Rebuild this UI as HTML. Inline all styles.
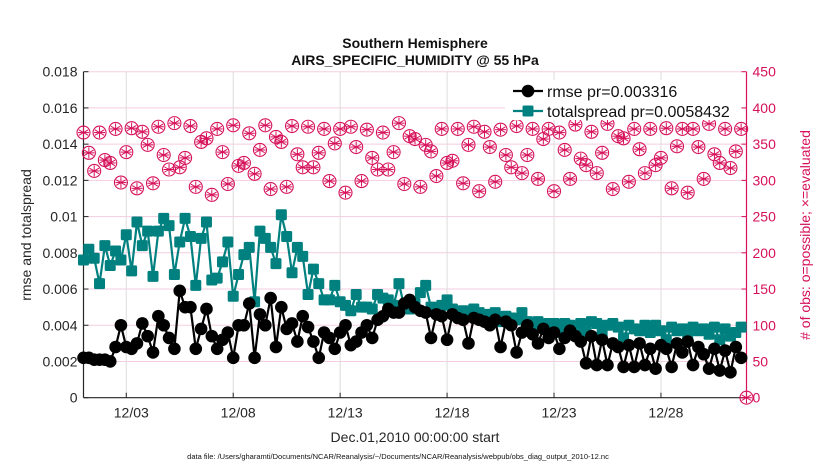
<!DOCTYPE html>
<html><head><meta charset="utf-8"><style>
html,body{margin:0;padding:0;background:#fff;}
svg{display:block;font-family:"Liberation Sans",Arial,sans-serif;}
</style></head><body>
<svg id="chart" width="830" height="470" viewBox="0 0 830 470">
</svg>
<script>
const rmse=[.0022,.0022,.0021,.0021,.0021,.0020,.0028,.0040,.0028,.0027,.0030,.0041,.0034,.0025,.0045,.0040,.0033,.0027,.0059,.0050,
.0050,.0027,.0038,.0049,.0034,.0027,.0032,.0036,.0022,.0040,.0040,.0052,.0022,.0046,.0040,.0055,.0028,.0050,.0038,.0041,
.0031,.0045,.0039,.0031,.0022,.0036,.0033,.0027,.0036,.0040,.0029,.0031,.0036,.0040,.0033,.0043,.0045,.0049,.0047,.0047,
.0052,.0054,.0050,.0048,.0047,.0033,.0046,.0045,.0032,.0046,.0044,.0043,.0030,.0044,.0043,.0042,.0040,.0043,.0028,.0042,
.0040,.0025,.0036,.0040,.0035,.0030,.0038,.0033,.0036,.0027,.0033,.0037,.0034,.0031,.0019,.0034,.0018,.0032,.0018,.0030,
.0028,.0017,.0029,.0017,.0030,.0018,.0027,.0016,.0029,.0027,.0017,.0030,.0025,.0031,.0018,.0028,.0024,.0016,.0027,.0015,
.0026,.0014,.0028,.0022];
const spread=[.0076,.0082,.0077,.0063,.0084,.0073,.0081,.0076,.0090,.0070,.0097,.0084,.0092,.0067,.0092,.0099,.0095,.0068,.0086,.0099,
.0089,.0062,.0088,.0097,.0065,.0066,.0075,.0086,.0056,.0068,.0079,.0083,.0053,.0092,.0088,.0083,.0074,.0101,.0089,.0069,
.0083,.0078,.0057,.0071,.0063,.0054,.0054,.0062,.0053,.0051,.0048,.0057,.0050,.0050,.0049,.0057,.0055,.0054,.0051,.0063,
.0050,.0049,.0052,.0058,.0062,.0050,.0047,.0051,.0054,.0049,.0047,.0048,.0046,.0049,.0047,.0045,.0046,.0047,.0042,.0045,
.0044,.0043,.0047,.0042,.0040,.0042,.0040,.0041,.0041,.0036,.0041,.0040,.0039,.0041,.0036,.0042,.0041,.0036,.0040,.0041,
.0039,.0033,.0040,.0038,.0037,.0040,.0036,.0040,.0037,.0032,.0039,.0037,.0038,.0033,.0039,.0037,.0038,.0035,.0039,.0032,
.0038,.0034,.0036,.0039];
const nobs=[366,338,313,366,328,324,371,297,339,372,289,367,349,296,374,335,315,379,318,331,
375,291,353,358,280,371,339,295,376,320,324,365,309,342,376,288,360,353,291,375,
336,318,374,318,338,371,299,351,371,283,374,346,299,370,331,315,366,315,339,379,
295,361,357,291,349,340,306,371,324,327,371,296,349,374,285,367,346,298,370,335,
318,375,310,335,371,302,357,371,285,366,342,302,377,330,321,367,310,338,378,288,
361,358,298,371,343,310,371,321,331,372,289,347,371,283,371,346,302,378,336,324,
371,317,340,371,0];
const leftTicks=[0,0.002,0.004,0.006,0.008,0.01,0.012,0.014,0.016,0.018];
const leftTickLabels=["0","0.002","0.004","0.006","0.008","0.01","0.012","0.014","0.016","0.018"];
const rightTicks=[0,50,100,150,200,250,300,350,400,450];
const dateTicks=[2,7,12,17,22,27];
const dateLabels=["12/03","12/08","12/13","12/18","12/23","12/28"];

const L=83.5,R=746.5,T=71.7,B=397.7;
const sx=d=>L+(R-L)*d/31;
const syL=v=>B-(B-T)*v/0.018;
const syR=v=>B-(B-T)*v/450;
const svg=document.getElementById('chart');
const NS='http://www.w3.org/2000/svg';
function mk(tag,attrs,parent){const e=document.createElementNS(NS,tag);for(const k in attrs)e.setAttribute(k,attrs[k]);(parent||svg).appendChild(e);return e;}
function txt(s,attrs,parent){const e=mk('text',attrs,parent);e.textContent=s;return e;}

// grid
const grid=mk('g',{});


rightTicks.forEach(v=>{if(v>0)mk('line',{x1:L,x2:R,y1:syR(v),y2:syR(v),stroke:'#f5cde0','stroke-width':1},grid);});
dateTicks.forEach(d=>mk('line',{x1:sx(d),x2:sx(d),y1:T,y2:B,stroke:'#dcdcdc','stroke-width':1},grid));

// axes
const axL=mk('g',{});


mk('line',{x1:L,x2:L,y1:T,y2:B,stroke:'#262626','stroke-width':1.2},axL);
leftTicks.forEach((v,i)=>{mk('line',{x1:L,x2:L+5,y1:syL(v),y2:syL(v),stroke:'#262626'},axL);
 txt(leftTickLabels[i],{x:L-6,y:syL(v)+5,'text-anchor':'end','font-size':14,fill:'#262626'},axL);});
const axB=mk('g',{});


mk('line',{x1:L,x2:R,y1:B,y2:B,stroke:'#262626','stroke-width':1.2},axB);
dateTicks.forEach((d,i)=>{mk('line',{x1:sx(d),x2:sx(d),y1:B,y2:B-5,stroke:'#262626'},axB);
 txt(dateLabels[i],{x:sx(d)+5,y:B+20,'text-anchor':'middle','font-size':14,fill:'#262626'},axB);});
const axR=mk('g',{});


mk('line',{x1:R,x2:R,y1:T,y2:B,stroke:'#d6115a','stroke-width':1.2},axR);
rightTicks.forEach(v=>{mk('line',{x1:R,x2:R-5,y1:syR(v),y2:syR(v),stroke:'#d6115a'},axR);
 txt(String(v),{x:R+6,y:syR(v)+5,'font-size':14,fill:'#d6115a'},axR);});

// obs series
const og=mk('g',{});


nobs.forEach((v,i)=>{const x=sx(i*0.25),y=syR(v);const g=mk('g',{},og);
 
 
 mk('circle',{cx:x,cy:y,r:6.5,fill:'none',stroke:'#d6115a','stroke-width':1.1},g);
 for(let a=0;a<3;a++){const an=a*Math.PI/3+Math.PI/2;const dx=5.5*Math.cos(an),dy=5.5*Math.sin(an);
  mk('line',{x1:x-dx,y1:y-dy,x2:x+dx,y2:y+dy,stroke:'#d6115a','stroke-width':1},g);}
 mk('line',{x1:x-5.5,x2:x+5.5,y1:y,y2:y,stroke:'#d6115a','stroke-width':1},g);
});

function series(data,color,name,marker){
 const g=mk('g',{});
 
 
 const pts=data.map((v,i)=>sx(i*0.25).toFixed(1)+','+syL(v).toFixed(1)).join(' ');
 mk('polyline',{points:pts,fill:'none',stroke:color,'stroke-width':2.2},g);
 data.forEach((v,i)=>{const x=sx(i*0.25),y=syL(v);let m;
  if(marker==='c')m=mk('circle',{cx:x,cy:y,r:6.3,fill:color},g);
  else m=mk('rect',{x:x-5.5,y:y-5.5,width:11,height:11,rx:1.5,fill:color},g);
  
  });
}
series(spread,'#00807f','totalspread-series','s');
series(rmse,'#000000','rmse-series','c');

// legend
const lg=mk('g',{});


mk('rect',{x:505,y:80,width:236,height:40,fill:'#fff'},lg);
const le1=mk('g',{},lg);


mk('line',{x1:513,x2:543,y1:91,y2:91,stroke:'#000','stroke-width':2.2},le1);
mk('circle',{cx:528,cy:91,r:6.3,fill:'#000'},le1);
txt('rmse pr=0.003316',{x:547,y:97,'font-size':16,fill:'#111'},le1);
const le2=mk('g',{},lg);


mk('line',{x1:513,x2:543,y1:111,y2:111,stroke:'#00807f','stroke-width':2.2},le2);
mk('rect',{x:522.5,y:105.5,width:11,height:11,rx:1.5,fill:'#00807f'},le2);
txt('totalspread pr=0.0058432',{x:547,y:117,'font-size':16,fill:'#111'},le2);
</script>
<script>
(function(){
const svg=document.getElementById('chart');const NS='http://www.w3.org/2000/svg';
function t(s,a,name){const e=document.createElementNS(NS,'text');for(const k in a)e.setAttribute(k,a[k]);e.textContent=s;


svg.appendChild(e);}
t('Southern Hemisphere',{x:415,y:48,'text-anchor':'middle','font-size':14,'font-weight':'bold',fill:'#111'},'chart-title');
t('AIRS_SPECIFIC_HUMIDITY @ 55 hPa',{x:415,y:65,'text-anchor':'middle','font-size':14,'font-weight':'bold',fill:'#111'},'chart-subtitle');
t('rmse and totalspread',{x:0,y:0,transform:'translate(31,235) rotate(-90)','text-anchor':'middle','font-size':14,fill:'#262626'},'left-y-axis-title');
t('# of obs: o=possible; \u00d7=evaluated',{x:0,y:0,transform:'translate(810,235) rotate(-90)','text-anchor':'middle','font-size':14,fill:'#d6115a'},'right-y-axis-title');
t('Dec.01,2010 00:00:00 start',{x:415,y:442,'text-anchor':'middle','font-size':14,fill:'#262626'},'x-axis-title');
t('data file: /Users/gharamti/Documents/NCAR/Reanalysis/~/Documents/NCAR/Reanalysis/webpub/obs_diag_output_2010-12.nc',{x:398,y:459,'text-anchor':'middle','font-size':7.5,fill:'#111'},'data-file-note');
})();
</script>
</body></html>
